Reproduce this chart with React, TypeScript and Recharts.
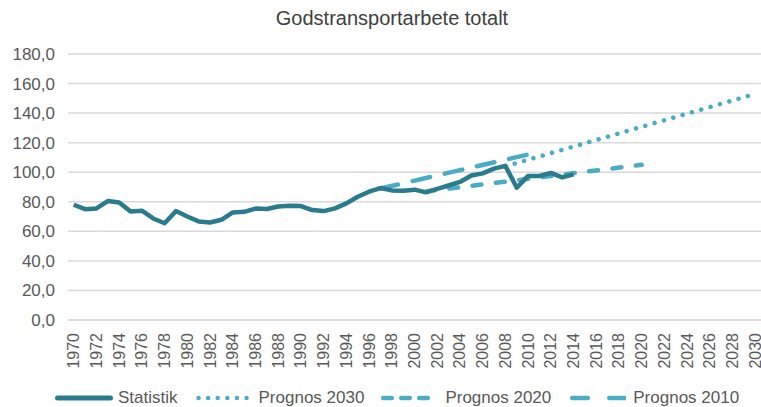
import React from "react";
import { LineChart, Line, XAxis, YAxis, CartesianGrid } from "recharts";

const years = [
  1970, 1971, 1972, 1973, 1974, 1975, 1976, 1977, 1978, 1979,
  1980, 1981, 1982, 1983, 1984, 1985, 1986, 1987, 1988, 1989,
  1990, 1991, 1992, 1993, 1994, 1995, 1996, 1997, 1998, 1999,
  2000, 2001, 2002, 2003, 2004, 2005, 2006, 2007, 2008, 2009,
  2010, 2011, 2012, 2013, 2014, 2015, 2016, 2017, 2018, 2019,
  2020, 2021, 2022, 2023, 2024, 2025, 2026, 2027, 2028, 2029, 2030,
];

// Statistik 1970–2014
const statistik = [
  78, 75, 75.5, 80.5, 79.5, 73.5, 74, 68.7, 65.5, 73.7,
  70, 66.7, 66, 67.8, 72.8, 73.2, 75.4, 75.1, 76.8, 77.3,
  77.1, 74.4, 73.7, 75.5, 78.9, 83.4, 86.8, 89.3, 87.7, 87.5,
  88.2, 86.4, 88.7, 91, 93.4, 97.8, 99.2, 102.4, 104.3, 89.5,
  97.5, 97.5, 99.5, 96.5, 98.5,
];

const prognos2030Years = [2008, 2030];
const prognos2030 = [104, 153];
const prognos2020Years = [2001, 2020];
const prognos2020 = [87, 105];
const prognos2010Years = [1997, 2010];
const prognos2010 = [89, 112];

const yTicks = [0, 20, 40, 60, 80, 100, 120, 140, 160, 180];

const valueAt = (ys: number[], vs: number[], year: number) => {
  const idx = ys.indexOf(year);
  return idx >= 0 ? vs[idx] : null;
};

const data = years.map((year, i) => ({
  year: String(year),
  statistik: i < statistik.length ? statistik[i] : null,
  p2030: valueAt(prognos2030Years, prognos2030, year),
  p2020: valueAt(prognos2020Years, prognos2020, year),
  p2010: valueAt(prognos2010Years, prognos2010, year),
}));

const DARK = "#2b7b8e";
const LIGHT = "#4bacc6";
const TEXT = "#595959";
const FONT = "'Liberation Sans', Arial, sans-serif";

const XTick = (props: any) => {
  const { x, y, payload } = props;
  return (
    <text
      x={x}
      y={y}
      transform={`rotate(-90 ${x} ${y})`}
      textAnchor="end"
      dominantBaseline="central"
      fill={TEXT}
      fontSize={16}
      fontFamily={FONT}
    >
      {payload.value}
    </text>
  );
};

const legendItems = [
  { label: "Statistik", color: DARK, width: 58, dash: undefined as string | undefined, x1: 2.5, x2: 55.5, gapAfterIcon: 5, gapAfterText: 18 },
  { label: "Prognos 2030", color: LIGHT, width: 53, dash: "0.01 9.6", x1: 2.5, x2: 50.6, gapAfterIcon: 10, gapAfterText: 17 },
  { label: "Prognos 2020", color: LIGHT, width: 53, dash: "8.5 9.5", x1: 2.25, x2: 46.75, gapAfterIcon: 11, gapAfterText: 19 },
  { label: "Prognos 2010", color: LIGHT, width: 56, dash: "15.5 21.5", x1: 2.25, x2: 54.75, gapAfterIcon: 7, gapAfterText: 0 },
];

export default function App() {
  return (
    <div
      style={{
        position: "absolute",
        left: 0,
        top: 0,
        width: 761,
        height: 407,
        background: "#ffffff",
        fontFamily: FONT,
        overflow: "hidden",
      }}
    >
      <div
        style={{
          position: "absolute",
          top: 6,
          left: 0,
          width: 784,
          textAlign: "center",
          fontSize: 20,
          lineHeight: "24px",
          color: "#404040",
        }}
      >
        Godstransportarbete totalt
      </div>
      <LineChart
        width={761}
        height={407}
        data={data}
        margin={{ top: 54, right: 0, left: 0, bottom: 27 }}
      >
        <CartesianGrid vertical={false} stroke="#d9d9d9" strokeWidth={1.5} />
        <XAxis
          dataKey="year"
          interval={1}
          height={60}
          padding={{ left: 5.7, right: 5.7 }}
          tickLine={false}
          tickSize={6}
          tickMargin={7}
          axisLine={{ stroke: "#d9d9d9", strokeWidth: 1.5 }}
          tick={<XTick />}
        />
        <YAxis
          domain={[0, 180]}
          ticks={yTicks}
          width={68}
          axisLine={false}
          tickLine={false}
          tickSize={6}
          tickMargin={7}
          tickFormatter={(v: number) => v.toFixed(1).replace(".", ",")}
          tick={{ fill: TEXT, fontSize: 17, fontFamily: FONT }}
        />
        <Line
          dataKey="p2030"
          stroke={LIGHT}
          strokeWidth={4.6}
          strokeDasharray="0.01 9.7"
          strokeLinecap="round"
          dot={false}
          connectNulls
          isAnimationActive={false}
        />
        <Line
          dataKey="p2020"
          stroke={LIGHT}
          strokeWidth={4.5}
          strokeDasharray="9 14.5"
          strokeLinecap="round"
          dot={false}
          connectNulls
          isAnimationActive={false}
        />
        <Line
          dataKey="p2010"
          stroke={LIGHT}
          strokeWidth={4.5}
          strokeDasharray="18 15"
          strokeLinecap="round"
          dot={false}
          connectNulls
          isAnimationActive={false}
        />
        <Line
          dataKey="statistik"
          stroke={DARK}
          strokeWidth={4.5}
          strokeLinejoin="round"
          dot={false}
          isAnimationActive={false}
        />
      </LineChart>
      <div
        style={{
          position: "absolute",
          top: 388,
          left: 55,
          height: 20,
          display: "flex",
          alignItems: "center",
          fontSize: 17,
          color: TEXT,
          whiteSpace: "nowrap",
        }}
      >
        {legendItems.map((it) => (
          <div key={it.label} style={{ display: "flex", alignItems: "center", marginRight: it.gapAfterText }}>
            <svg width={it.width} height={10} style={{ marginRight: it.gapAfterIcon }}>
              <line
                x1={it.x1}
                x2={it.x2}
                y1={5}
                y2={5}
                stroke={it.color}
                strokeWidth={it.dash ? 4.5 : 5}
                strokeLinecap="round"
                strokeDasharray={it.dash}
              />
            </svg>
            <span>{it.label}</span>
          </div>
        ))}
      </div>
    </div>
  );
}
